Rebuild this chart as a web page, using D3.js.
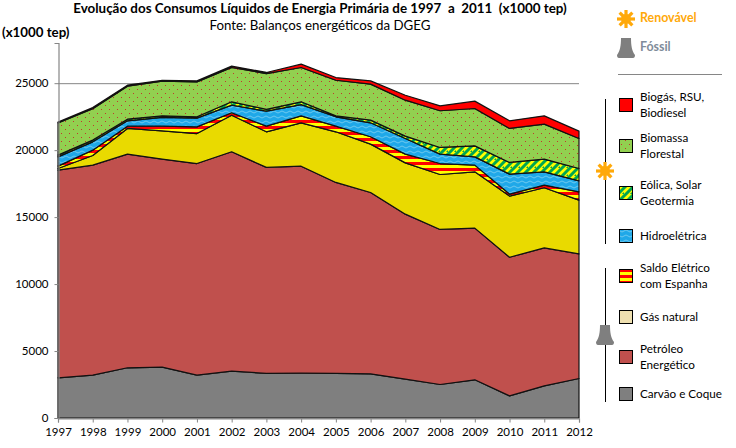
<!DOCTYPE html>
<html><head><meta charset="utf-8">
<script src="https://cdn.jsdelivr.net/npm/d3@7"></script>
<style>
html,body{margin:0;padding:0;background:#fff}
svg{display:block}
text{font-family:Lato,"Open Sans",sans-serif;fill:#000}
</style></head><body><div id="c"></div>
<script>
const years=[1997,1998,1999,2000,2001,2002,2003,2004,2005,2006,2007,2008,2009,2010,2011,2012];
const yTicks=[0,5000,10000,15000,20000,25000];
const carvao=[3000,3200,3750,3800,3200,3500,3330,3350,3330,3300,2900,2500,2850,1650,2400,2950];
const petroleo=[15510,15680,15950,15530,15800,16380,15380,15450,14260,13540,12320,11580,11330,10350,10300,9300];
const gas=[120,720,1920,2110,2240,2730,2660,3240,3780,3610,3830,4100,4200,4570,4490,4020];
const saldo=[180,400,170,350,500,180,420,520,420,550,650,820,500,150,200,620];
const hidro=[690,620,400,650,650,570,1120,840,700,1040,1170,700,620,1490,990,820];
const eolica=[130,130,120,120,100,250,130,210,70,200,180,500,820,870,950,920];
const biomassa=[2410,2340,2470,2590,2610,2560,2680,2560,2660,2690,2680,2740,2790,2540,2610,2240];
const biogas=[50,90,70,70,70,100,80,250,200,240,370,370,550,570,620,550];
const seriesNames=["carvao","petroleo","gas","saldo","hidro","eolica","biomassa","biogas"];
const seriesValues=[carvao,petroleo,gas,saldo,hidro,eolica,biomassa,biogas];
const seriesFills=["#7f7f7f","#c0504d","#e9da00","url(#pSaldo)","url(#pHidro)","url(#pEolica)","url(#pBio)","#ff0000"];
const legendRows=[["Biogás, RSU,","Biodiesel"],["Biomassa","Florestal"],["Eólica, Solar","Geotermia"],["Hidroelétrica"],["Saldo Elétrico","com Espanha"],["Gás natural"],["Petróleo","Energético"],["Carvão e Coque"]];
const legendFills=["#ff0000","url(#pBio)","url(#pEolica)","url(#pHidro)","url(#pSaldo)","#efe0b0","#c0504d","#7f7f7f"];
const legendY=[98,139,186,229,269,310,350,387];

const W=736,H=448;
const svg=d3.select("#c").append("svg").attr("width",W).attr("height",H);
const defs=svg.append("defs");
let p=defs.append("pattern").attr("id","pSaldo").attr("patternUnits","userSpaceOnUse").attr("width",4).attr("height",6);
p.append("rect").attr("width",4).attr("height",6).attr("fill","#ffff00");
p.append("rect").attr("width",4).attr("height",3).attr("fill","#ff0000");
p=defs.append("pattern").attr("id","pEolica").attr("patternUnits","userSpaceOnUse").attr("width",8).attr("height",8);
p.append("rect").attr("width",8).attr("height",8).attr("fill","#ffff00");
p.append("path").attr("d","M-2,4L4,-2M0,10L10,0M6,10L10,6").attr("stroke","#00a651").attr("stroke-width",3);
p=defs.append("pattern").attr("id","pHidro").attr("patternUnits","userSpaceOnUse").attr("width",8).attr("height",5);
p.append("rect").attr("width",8).attr("height",5).attr("fill","#1fa8e8");
p.append("path").attr("d","M0,2Q2,0 4,2T8,2").attr("fill","none").attr("stroke","#7fd0f0").attr("stroke-width",.8);
p=defs.append("pattern").attr("id","pBio").attr("patternUnits","userSpaceOnUse").attr("width",8).attr("height",8);
p.append("rect").attr("width",8).attr("height",8).attr("fill","#92d050");
p.append("rect").attr("x",1).attr("y",1).attr("width",1).attr("height",1).attr("fill","#c0392b");
p.append("rect").attr("x",5).attr("y",5).attr("width",1).attr("height",1).attr("fill","#c0392b");

const x=d3.scaleLinear().domain([1997,2012]).range([58,579]);
const y=d3.scaleLinear().domain([0,28000]).range([418,43]);

const table=years.map((yr,i)=>{const o={year:yr};seriesNames.forEach((n,k)=>o[n]=seriesValues[k][i]);return o;});
const layers=d3.stack().keys(seriesNames)(table);
const area=d3.area().x(d=>x(d.data.year)).y0(d=>y(d[0])).y1(d=>y(d[1]));

svg.append("line").attr("x1",x(1997)).attr("x2",x(2012)).attr("y1",y(25000)+.5).attr("y2",y(25000)+.5).attr("stroke","#868686");

svg.append("g").selectAll("path").data(layers).join("path")
 .attr("d",area).attr("fill",(d,i)=>seriesFills[i]).attr("stroke","#111").attr("stroke-width",1.2).attr("stroke-linejoin","round");

const ax=svg.append("g").attr("transform","translate(0,418.5)").call(d3.axisBottom(x).tickValues(years).tickFormat(d3.format("d")).tickSize(4).tickPadding(5));
const ay=svg.append("g").attr("transform","translate(58.5,0)").call(d3.axisLeft(y).tickValues(yTicks).tickFormat(d3.format("d")).tickSize(4).tickPadding(6));
[ax,ay].forEach(g=>{g.selectAll("path,line").attr("stroke","#868686");g.select(".domain").attr("stroke-width",1.2);
 g.selectAll("text").style("font-family","Lato").style("font-size","11.5px").attr("fill","#000");});

svg.append("text").attr("x",320).attr("y",13).attr("text-anchor","middle").style("font-size","13.4px").style("font-weight","bold").style("white-space","pre").text("Evolução dos Consumos Líquidos de Energia Primária de 1997  a  2011  (x1000 tep)");
svg.append("text").attr("x",320).attr("y",30).attr("text-anchor","middle").style("font-size","13.3px").text("Fonte: Balanços energéticos da DGEG");
svg.append("text").attr("x",2).attr("y",37).style("font-size","13.3px").style("font-weight","bold").text("(x1000 tep)");

function sun(cx,cy,r,c){const g=svg.append("g").attr("transform",`translate(${cx},${cy})`);
 d3.range(8).forEach(i=>{const a=i*Math.PI/4;g.append("line").attr("x1",0).attr("y1",0).attr("x2",r*Math.cos(a)).attr("y2",r*Math.sin(a)).attr("stroke",c).attr("stroke-width",3.2);});
 g.append("circle").attr("r",r*.55).attr("fill",c);}
function tower(cx,top,c){svg.append("path").attr("transform",`translate(${cx},${top})`)
 .attr("d","M-5,0L5,0C5,8 6,13 9,17Q9,20 7,20L-7,20Q-9,20 -9,17C-6,13 -5,8 -5,0Z").attr("fill",c);}

svg.append("line").attr("x1",605.5).attr("x2",605.5).attr("y1",99).attr("y2",244).attr("stroke","#000");
svg.append("line").attr("x1",605.5).attr("x2",605.5).attr("y1",268).attr("y2",402).attr("stroke","#000");
sun(626,19,9,"#ffa90a");
tower(626,38,"#7f7f7f");
svg.append("text").attr("x",640).attr("y",22).style("font-size","12.4px").style("font-weight","bold").style("fill","#ffa90a").text("Renovável");
svg.append("text").attr("x",640).attr("y",51).style("font-size","12.4px").style("font-weight","bold").style("fill","#7f8c9a").text("Fóssil");
svg.append("line").attr("x1",618).attr("x2",722).attr("y1",74.5).attr("y2",74.5).attr("stroke","#868686");
sun(605,171,9,"#ffa90a");
tower(605,325,"#7f7f7f");

const lg=svg.append("g").selectAll("g").data(legendRows).join("g").attr("transform",(d,i)=>`translate(0,${legendY[i]})`);
lg.append("rect").attr("x",619.5).attr("y",.5).attr("width",13).attr("height",13).attr("fill",(d,i)=>legendFills[i]).attr("stroke","#000");
lg.each(function(d){const g=d3.select(this);
 d.forEach((t,j)=>g.append("text").attr("x",640).attr("y",d.length===1?11:(3+j*16)).style("font-size","11.7px").text(t));});
</script></body></html>
